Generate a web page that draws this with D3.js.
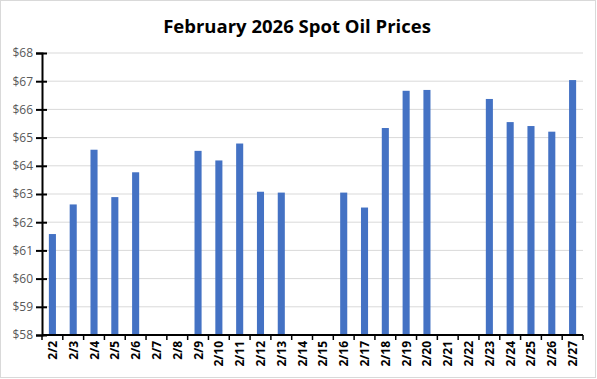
<!DOCTYPE html>
<html><head><meta charset="utf-8">
<script src="https://cdn.jsdelivr.net/npm/d3@7"></script>
<style>body{margin:0;background:#fff}svg{display:block}</style>
</head><body>
<svg id="c" width="597" height="379"></svg>
<script>
const dates = ["2/2","2/3","2/4","2/5","2/6","2/7","2/8","2/9","2/10","2/11","2/12","2/13","2/14","2/15","2/16","2/17","2/18","2/19","2/20","2/21","2/22","2/23","2/24","2/25","2/26","2/27"];
const prices = [61.58,62.63,64.57,62.89,63.77,null,null,64.53,64.19,64.79,63.08,63.05,null,null,63.05,62.52,65.34,66.66,66.69,null,null,66.37,65.55,65.41,65.21,67.04];
const yTicks = [58,59,60,61,62,63,64,65,66,67,68];
const title = "February 2026 Spot Oil Prices";

const svg = d3.select("#c");
const W = 597, H = 379;
const m = {l:42, r:14, t:53, b:44};
svg.append("rect").attr("x",0.5).attr("y",0.5).attr("width",W-2).attr("height",H-2)
  .attr("fill","#fff").attr("stroke","#d9d9d9");

const x = d3.scaleBand().domain(dates).range([m.l, W-m.r]).paddingInner(0.66).paddingOuter(0.33);
const y = d3.scaleLinear().domain([58,68]).range([H-m.b, m.t]);

// gridlines
svg.append("g").selectAll("line").data(yTicks.slice(1)).join("line")
  .attr("x1",m.l).attr("x2",W-m.r).attr("y1",d=>y(d)).attr("y2",d=>y(d))
  .attr("stroke","#d9d9d9").attr("stroke-width",1);

// bars
svg.append("g").selectAll("rect").data(dates.map((d,i)=>({d,v:prices[i]})).filter(o=>o.v!=null)).join("rect")
  .attr("x",o=>x(o.d)).attr("width",x.bandwidth())
  .attr("y",o=>y(o.v)).attr("height",o=>y(58)-y(o.v))
  .attr("fill","#4472c4");

// y axis
const ya = svg.append("g").attr("transform",`translate(${m.l},0)`)
  .call(d3.axisLeft(y).tickValues(yTicks).tickFormat(d=>"$"+d).tickSize(6).tickPadding(3));
ya.select(".domain").attr("stroke","#000").attr("stroke-width",2);
ya.selectAll(".tick line").attr("stroke","#000").attr("stroke-width",2).attr("x2",5).attr("x1",-6);
ya.selectAll(".tick text").attr("x",-9).attr("font-family","Open Sans, sans-serif").attr("font-size",12).attr("fill","#595959");

// x axis
const xg = svg.append("g").attr("transform",`translate(0,${H-m.b})`);
xg.append("line").attr("x1",m.l).attr("x2",W-m.r).attr("stroke","#000").attr("stroke-width",2);
const step = x.step();
const bounds = dates.map((d,i)=>x(d)+x.bandwidth()/2 - step/2).concat([x(dates[dates.length-1])+x.bandwidth()/2+step/2]);
xg.selectAll("line.t").data(bounds).join("line").attr("class","t")
  .attr("x1",d=>d).attr("x2",d=>d).attr("y1",0).attr("y2",5)
  .attr("stroke","#000").attr("stroke-width",1.5);
xg.selectAll("text").data(dates).join("text")
  .attr("transform",d=>`translate(${x(d)+x.bandwidth()/2+4.5},6) rotate(-90)`)
  .attr("text-anchor","end")
  .attr("font-family","Open Sans, sans-serif").attr("font-weight","bold").attr("font-size",12)
  .attr("fill","#000").text(d=>d);

// title
svg.append("text").attr("x",297).attr("y",33).attr("text-anchor","middle")
  .attr("font-family","Open Sans, sans-serif").attr("font-weight","bold").attr("font-size",18.5)
  .attr("fill","#000").text(title);
</script>
</body></html>
